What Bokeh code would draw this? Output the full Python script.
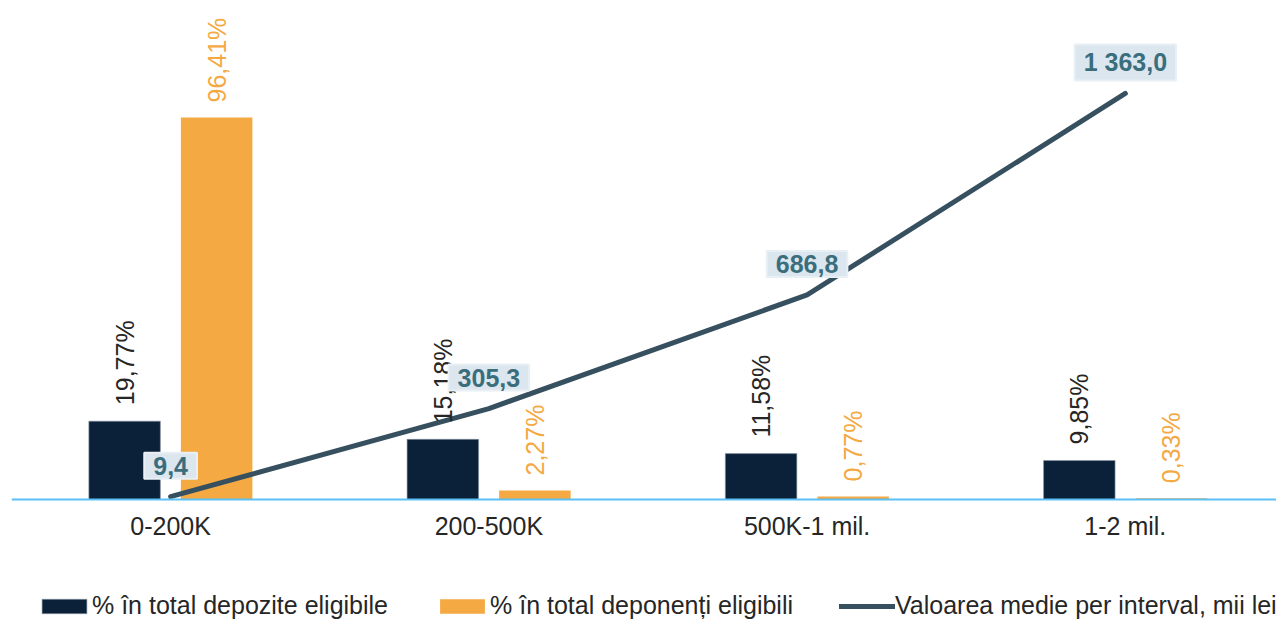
import numpy as np
from bokeh.plotting import figure
from bokeh.models import (Range1d, ColumnDataSource, LabelSet, Label, Legend,
                          LegendItem, Span)
from bokeh.transform import dodge
from bokeh.core.properties import value
from bokeh.embed import file_html
from bokeh.resources import INLINE

# ---- data ----
categories = ["0-200K", "200-500K", "500K-1 mil.", "1-2 mil."]
pct_deposits = [19.77, 15.18, 11.58, 9.85]
pct_depositors = [96.41, 2.27, 0.77, 0.33]
avg_value = [9.4, 305.3, 686.8, 1363.0]
series_names = ["% în total depozite eligibile",
                "% în total deponenți eligibili",
                "Valoarea medie per interval, mii lei"]

NAVY = "#0b2139"
ORANGE = "#f4a942"
LINE = "#36505f"
TEAL = "#3b6e7d"
BOX = "#dbe6ee"
BASE = "#5bc0f5"
TXT = "#262626"
FONT = "Liberation Sans"


def pct_label(v):
    return f"{v:.2f}".replace(".", ",") + "%"


def val_label(v):
    return f"{v:,.1f}".replace(",", " ").replace(".", ",")


xs = list(range(len(categories)))
src = ColumnDataSource(dict(
    x=xs, cat=categories, zero=[0] * len(xs),
    dep=pct_deposits, depn=pct_depositors, avg=avg_value,
    dep_lbl=[pct_label(v) for v in pct_deposits],
    depn_lbl=[pct_label(v) for v in pct_depositors],
))

# frame covers the whole canvas (x from 11 px); baseline y=0 sits at 499 px
p = figure(width=1276, height=619, output_backend="svg", toolbar_location=None,
           x_range=Range1d(-0.5, 3.475), y_range=Range1d(-30.29, 125.94),
           x_axis_location=None, y_axis_location=None,
           min_border_left=11, min_border_right=0, min_border_top=0,
           min_border_bottom=0)
p.extra_y_ranges = {"avg": Range1d(-402.8, 1675.1)}
p.xgrid.visible = False
p.ygrid.visible = False
p.outline_line_color = None
p.background_fill_color = "white"

OFF = 0.1446
BW = 0.2247

r1 = p.vbar(x=dodge("x", -OFF, range=p.x_range), top="dep", bottom=0, width=BW,
            source=src, fill_color=NAVY, line_color="#8a96a3", line_width=1,
            line_alpha=0.6)
r2 = p.vbar(x=dodge("x", OFF, range=p.x_range), top="depn", bottom=0, width=BW,
            source=src, fill_color=ORANGE, line_color=None)

# baseline (category axis line)
p.add_layout(Span(location=0, dimension="width", line_color=BASE, line_width=2))

r3 = p.line(x="x", y="avg", source=src, y_range_name="avg", line_width=5,
            line_color=LINE, line_cap="round", line_join="round")

# category labels
p.add_layout(LabelSet(x="x", y="zero", text="cat", source=src,
                      text_align="center", text_baseline="top", y_offset=-13,
                      text_font=value(FONT), text_font_size="25px",
                      text_color=TXT))

# bar labels (rotated)
p.add_layout(LabelSet(x=dodge("x", -OFF, range=p.x_range), y="dep", text="dep_lbl",
                      source=src, angle=np.pi / 2, text_align="left",
                      text_baseline="middle", y_offset=16,
                      text_font=value(FONT), text_font_size="25px",
                      text_color=TXT))
p.add_layout(LabelSet(x=dodge("x", OFF, range=p.x_range), y="depn", text="depn_lbl",
                      source=src, angle=np.pi / 2, text_align="left",
                      text_baseline="middle", y_offset=15,
                      text_font=value(FONT), text_font_size="25px",
                      text_color=ORANGE))

# line value labels
for xi, v in zip(xs, avg_value):
    p.add_layout(Label(x=xi, y=v, y_range_name="avg", text=val_label(v),
                       text_align="center", text_baseline="middle", y_offset=31,
                       text_font=FONT, text_font_size="25px",
                       text_font_style="bold", text_color=TEAL,
                       background_fill_color=BOX, border_line_color="#e9f0f5",
                       border_line_width=2,
                       padding=dict(left=9, right=9, top=4, bottom=4)))

legend = Legend(items=[LegendItem(label=series_names[0], renderers=[r1]),
                       LegendItem(label=series_names[1], renderers=[r2]),
                       LegendItem(label=series_names[2], renderers=[r3])],
                orientation="horizontal", location=(25, -1),
                glyph_width=56, glyph_height=18, label_standoff=0, spacing=46,
                padding=0, margin=0, border_line_color=None,
                background_fill_alpha=0,
                label_text_font=FONT, label_text_font_size="25px",
                label_text_color=TXT)
p.add_layout(legend, "center")

open("out.html", "w").write(file_html(p, INLINE))
